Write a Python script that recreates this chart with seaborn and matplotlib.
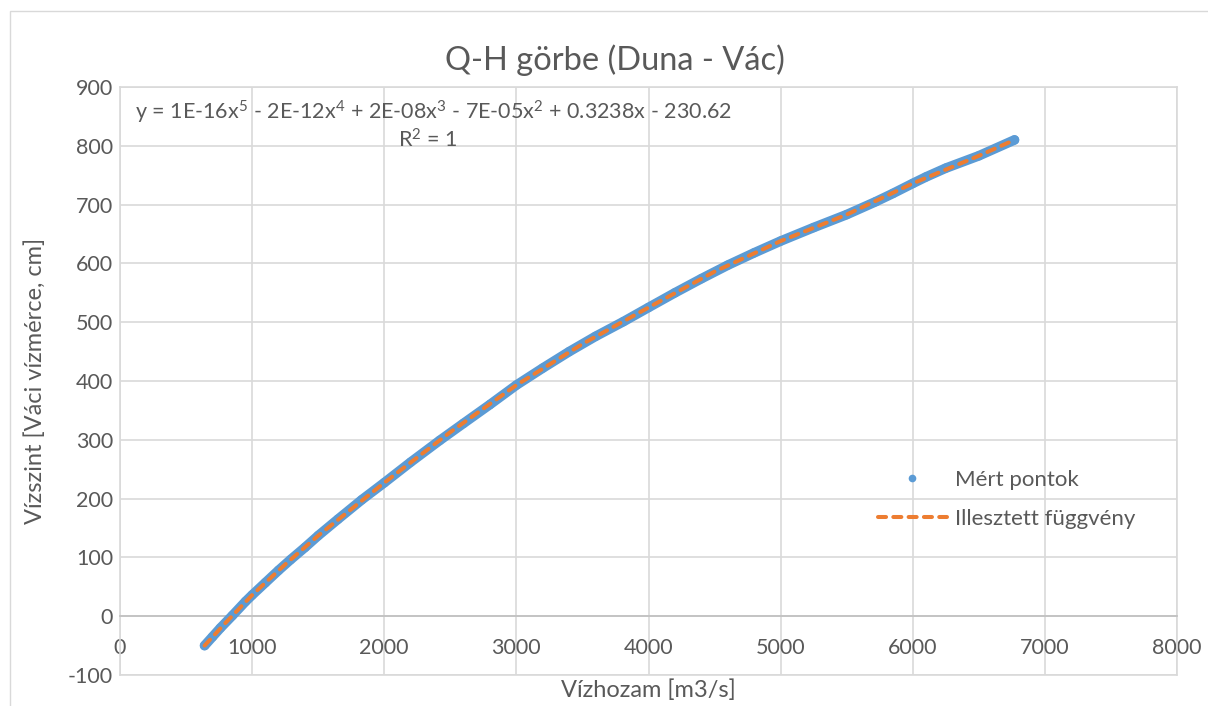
import matplotlib
matplotlib.use("Agg")
import matplotlib.pyplot as plt
from matplotlib.lines import Line2D
from matplotlib.patches import Rectangle
import seaborn as sns
import pandas as pd

# ---- data ----
q_measured = [640, 700, 760, 850, 950, 1000, 1100, 1200, 1290, 1400, 1500, 1650,
              1830, 2000, 2200, 2420, 2600, 2800, 3000, 3200, 3400, 3600, 3810,
              4000, 4200, 4400, 4600, 4800, 5000, 5250, 5500, 5720, 5850, 6000,
              6100, 6250, 6500, 6770]
h_measured = [-50, -35, -20, 1, 25, 36, 57, 78, 96, 117, 137, 165,
              198, 227, 262, 299, 328, 360, 393, 422, 450, 476, 501,
              525, 550, 574, 597, 618, 638, 661, 683, 705, 719, 736,
              747, 762, 783, 810]

q_fit = [640, 800, 1000, 1250, 1500, 2000, 2500, 3000, 3500, 4000, 4500,
         5000, 5500, 6000, 6500, 6770]
h_fit = [-50, -11, 36, 88, 137, 227, 313, 393, 463, 525, 586,
         638, 683, 736, 783, 810]

x_ticks = [0, 1000, 2000, 3000, 4000, 5000, 6000, 7000, 8000]
y_ticks = [-100, 0, 100, 200, 300, 400, 500, 600, 700, 800, 900]

title = "Q-H görbe (Duna - Vác)"
x_label = "Vízhozam [m3/s]"
y_label = "Vízszint [Váci vízmérce, cm]"
series_names = ["Mért pontok", "Illesztett függvény"]
equation = ("y = 1E-16x$^{5}$ - 2E-12x$^{4}$ + 2E-08x$^{3}$ - 7E-05x$^{2}$ "
            "+ 0.3238x - 230.62")
r2_text = "R$^{2}$ = 1"

# ---- style ----
sns.set_style("white")
plt.rcParams["font.family"] = ["Lato", "DejaVu Sans"]
plt.rcParams["mathtext.fontset"] = "custom"
plt.rcParams["mathtext.rm"] = "Lato"
plt.rcParams["mathtext.it"] = "Lato"
plt.rcParams["mathtext.default"] = "regular"

BLUE = "#5B9BD5"
ORANGE = "#ED7D31"
GRID = "#D9D9D9"
TEXT = "#595959"

W, H = 1208, 706
fig = plt.figure(figsize=(W / 100, H / 100), dpi=100)
fig.patch.set_facecolor("white")

# chart-area border (Excel style)
fig.patches.append(Rectangle((10 / W, -0.2), 1.5, (1 - 11 / H) + 0.2,
                             transform=fig.transFigure, fill=False,
                             edgecolor=GRID, lw=1.0))

left, right, top, bottom = 120, 1177, 87, 675
ax = fig.add_axes([left / W, 1 - bottom / H, (right - left) / W, (bottom - top) / H])

df_m = pd.DataFrame({"Q": q_measured, "H": h_measured})
df_f = pd.DataFrame({"Q": q_fit, "H": h_fit})

# measured points: dense band of markers
sns.lineplot(data=df_m, x="Q", y="H", ax=ax, sort=False, color=BLUE,
             lw=7.0, solid_capstyle="round", solid_joinstyle="round", zorder=3)
sns.scatterplot(data=df_m, x="Q", y="H", ax=ax, color=BLUE, s=45,
                edgecolor="none", zorder=3)
# fitted function
sns.lineplot(data=df_f, x="Q", y="H", ax=ax, sort=False, color=ORANGE,
             lw=2.9, zorder=4)
fit_line = ax.get_lines()[-1]
fit_line.set_dashes((2.0, 1.8))
fit_line.set_dash_capstyle("round")

ax.set_xlim(x_ticks[0], x_ticks[-1])
ax.set_ylim(y_ticks[0], y_ticks[-1])
ax.set_xticks(x_ticks)
ax.set_yticks(y_ticks)
ax.set_xticklabels([str(v) for v in x_ticks])
ax.set_yticklabels([str(v) for v in y_ticks])

ax.grid(True, color=GRID, lw=1.2)
ax.set_axisbelow(True)
for side in ["left", "right", "top"]:
    ax.spines[side].set_visible(True)
    ax.spines[side].set_color(GRID)
    ax.spines[side].set_linewidth(1.2)
ax.spines["bottom"].set_position(("data", 0))
ax.spines["bottom"].set_color("#BFBFBF")
ax.spines["bottom"].set_linewidth(1.2)
ax.axhline(y_ticks[0], color=GRID, lw=1.2, clip_on=False, zorder=0)

ax.tick_params(axis="both", length=0, labelsize=15.5, labelcolor=TEXT)
ax.tick_params(axis="x", pad=16)
ax.tick_params(axis="y", pad=5)

ax.set_xlabel(x_label, fontsize=17, color=TEXT)
ax.set_ylabel(y_label, fontsize=17, color=TEXT)
ax.xaxis.label.set_va("center")
ax.yaxis.label.set_va("center")
ax.xaxis.set_label_coords(0.5, (bottom - 690) / (bottom - top))
ax.yaxis.set_label_coords((35 - left) / (right - left), 0.5)

fig.text(615 / W, 1 - 60 / H, title, ha="center", va="center",
         fontsize=23.5, color=TEXT)

ax.text((135 - left) / (right - left), (bottom - 112) / (bottom - top), equation,
        transform=ax.transAxes, ha="left", va="center", fontsize=15.5, color=TEXT)
ax.text((428 - left) / (right - left), (bottom - 140) / (bottom - top), r2_text,
        transform=ax.transAxes, ha="center", va="center", fontsize=15.5, color=TEXT)

handles = [
    Line2D([], [], marker="o", linestyle="none", color=BLUE, markersize=5.5,
           markeredgewidth=0),
    Line2D([], [], color=ORANGE, lw=2.9, dashes=(2.0, 1.8), dash_capstyle="round"),
]
leg = ax.legend(handles, series_names, loc="upper left",
                bbox_to_anchor=(878 / W, 1 - 470 / H),
                bbox_transform=fig.transFigure, frameon=False, fontsize=16,
                handlelength=3.1, handletextpad=0.35, labelspacing=0.85,
                borderpad=0, borderaxespad=0)
for t in leg.get_texts():
    t.set_color(TEXT)

fig.savefig("out.png", dpi=100)
